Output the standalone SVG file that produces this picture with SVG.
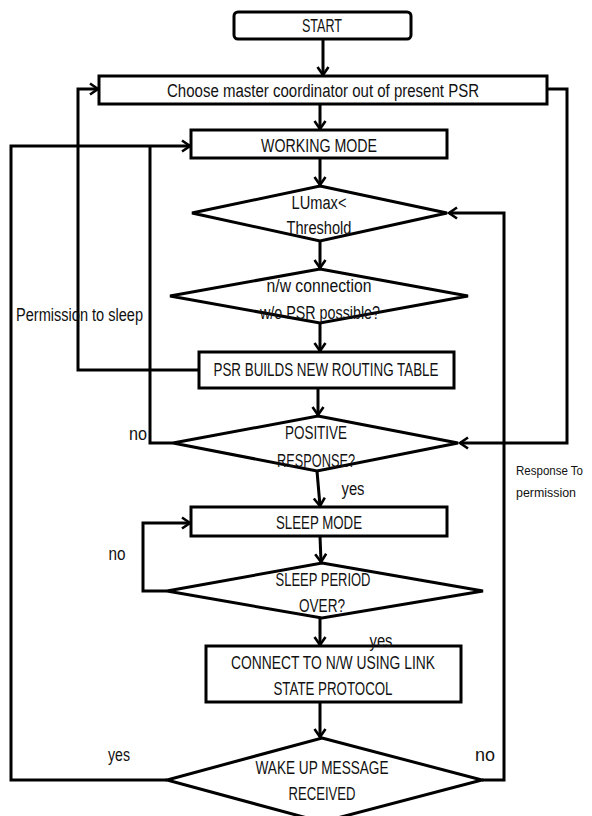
<svg xmlns="http://www.w3.org/2000/svg" width="592" height="816" viewBox="0 0 592 816">
<style>
.n{fill:#fff;stroke:#000;stroke-width:3}
.c{fill:none;stroke:#000;stroke-width:3;stroke-linejoin:miter}
.a{marker-end:url(#arr)}
text{font-family:"Liberation Sans Narrow","Liberation Sans",Arial,sans-serif;font-size:18px;fill:#111}
.m{text-anchor:middle}
.s{font-size:13px}
</style>
<defs>
<marker id="arr" markerUnits="userSpaceOnUse" markerWidth="14" markerHeight="14" refX="10" refY="7" orient="auto">
<path d="M2,1.5 L10,7 L2,12.5" fill="none" stroke="#000" stroke-width="2.6"/>
</marker>
</defs>
<rect width="592" height="816" fill="#fff"/>
<g id="connectors">
<path class="c a" d="M323,39 V75"/>
<path class="c a" d="M320,104 V129"/>
<path class="c a" d="M320,158 V185"/>
<path class="c a" d="M320,241 V268"/>
<path class="c a" d="M320,323 V351"/>
<path class="c a" d="M318,388 V415"/>
<path class="c a" d="M317,471 L320,506"/>
<path class="c a" d="M320,536 L321,562"/>
<path class="c a" d="M320,618 V645"/>
<path class="c a" d="M320,702 V737"/>
<path class="c a" d="M199,370 H78 V89 H98"/>
<path class="c" d="M173,443 H150 V146"/>
<path class="c a" d="M167,780 H11 V146 H190"/>
<path class="c a" d="M547,89 H567 V443 H460"/>
<path class="c a" d="M482,780 H504 V213 H449"/>
<path class="c a" d="M167,591 H143 V523 H190"/>
</g>
<g id="start"><rect class="n" x="234" y="12" width="177" height="27" rx="4"/><text class="m" x="322" y="31.5" textLength="40" lengthAdjust="spacingAndGlyphs">START</text></g>
<g id="choose"><rect class="n" x="99" y="76" width="448" height="28"/><text class="m" x="323" y="96.5" textLength="312" lengthAdjust="spacingAndGlyphs">Choose master coordinator out of present PSR</text></g>
<g id="working"><rect class="n" x="191" y="130" width="256" height="28"/><text class="m" x="319" y="151.5" textLength="116" lengthAdjust="spacingAndGlyphs">WORKING MODE</text></g>
<g id="lumax"><polygon class="n" points="320,186 447,213 320,241 192,213"/><text class="m" x="319" y="208.5" textLength="55" lengthAdjust="spacingAndGlyphs">LUmax&lt;</text><text class="m" x="319" y="233.5" textLength="65" lengthAdjust="spacingAndGlyphs">Threshold</text></g>
<g id="nwconn"><polygon class="n" points="320,269 468,296 320,323 170,296"/><text class="m" x="319" y="291.5" textLength="105" lengthAdjust="spacingAndGlyphs">n/w connection</text><text class="m" x="320" y="318.5" textLength="120" lengthAdjust="spacingAndGlyphs">w/o PSR possible?</text></g>
<g id="psr"><rect class="n" x="199" y="352" width="255" height="36"/><text class="m" x="326" y="375.5" textLength="225" lengthAdjust="spacingAndGlyphs">PSR BUILDS NEW ROUTING TABLE</text></g>
<g id="positive"><polygon class="n" points="318,416 458,443 317,471 173,443"/><text class="m" x="316" y="438.5" textLength="62" lengthAdjust="spacingAndGlyphs">POSITIVE</text><text class="m" x="316" y="466.5" textLength="78" lengthAdjust="spacingAndGlyphs">RESPONSE?</text></g>
<g id="sleep"><rect class="n" x="191" y="507" width="256" height="29"/><text class="m" x="319" y="528.5" textLength="86" lengthAdjust="spacingAndGlyphs">SLEEP MODE</text></g>
<g id="period"><polygon class="n" points="322,563 483,591 322,618 167,591"/><text class="m" x="323" y="585.5" textLength="95" lengthAdjust="spacingAndGlyphs">SLEEP PERIOD</text><text class="m" x="322" y="611.5" textLength="46" lengthAdjust="spacingAndGlyphs">OVER?</text></g>
<g id="connect"><rect class="n" x="206" y="646" width="255" height="56"/><text class="m" x="333" y="668.5" textLength="204" lengthAdjust="spacingAndGlyphs">CONNECT TO N/W USING LINK</text><text class="m" x="333" y="694.5" textLength="119" lengthAdjust="spacingAndGlyphs">STATE PROTOCOL</text></g>
<g id="wake"><polygon class="n" points="322,738 482,780 322,822 167,780"/><text class="m" x="322" y="773.5" textLength="133" lengthAdjust="spacingAndGlyphs">WAKE UP MESSAGE</text><text class="m" x="322" y="799.5" textLength="67" lengthAdjust="spacingAndGlyphs">RECEIVED</text></g>
<g id="labels">
<text x="16" y="321" textLength="127" lengthAdjust="spacingAndGlyphs">Permission to sleep</text>
<text class="m" x="138" y="440" textLength="18" lengthAdjust="spacingAndGlyphs">no</text>
<text class="m" x="353" y="495" textLength="23" lengthAdjust="spacingAndGlyphs">yes</text>
<text class="s" x="516" y="475" textLength="67" lengthAdjust="spacingAndGlyphs">Response To</text>
<text class="s" x="516" y="497" textLength="60" lengthAdjust="spacingAndGlyphs">permission</text>
<text class="m" x="117" y="560" textLength="17" lengthAdjust="spacingAndGlyphs">no</text>
<text class="m" x="381" y="647" textLength="23" lengthAdjust="spacingAndGlyphs">yes</text>
<text class="m" x="119" y="761" textLength="22" lengthAdjust="spacingAndGlyphs">yes</text>
<text class="m" x="485" y="761" textLength="20" lengthAdjust="spacingAndGlyphs">no</text>
</g>
</svg>
